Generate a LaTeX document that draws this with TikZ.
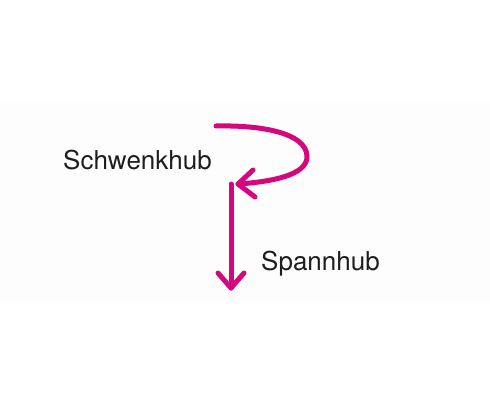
\documentclass[tikz,border=0pt]{standalone}
\usepackage{fontspec}
\setmainfont{TeX Gyre Heros}
\definecolor{mag}{HTML}{D5077C}
\definecolor{band}{HTML}{FDFDFD}
\definecolor{ink}{HTML}{1E1E1E}
\begin{document}
\begin{tikzpicture}[x=1pt,y=-1pt,
  arr/.style={draw=mag,line width=5pt,line cap=round,line join=round},
  lbl/.style={font=\fontsize{26}{30}\selectfont,text=ink,inner sep=0pt,anchor=base west}]
\useasboundingbox (0,0) rectangle (490,410);
\fill[white] (0,0) rectangle (490,410);
\fill[band] (0,102) rectangle (490,303);
% curved arrow
\coordinate (c0) at (216,126);
\coordinate (c1) at (307,156);
\coordinate (ct) at (238,184);
\draw[arr] (c0) .. controls (262,125) and (306,133) .. (c1)
  .. controls (308,176) and (268,182) .. (ct);
\draw[arr] (253,170) -- (ct) -- (255,197);
% straight arrow
\coordinate (s0) at (231,184);
\coordinate (s1) at (231,288);
\draw[arr] (s0) -- (s1);
\draw[arr] (218,273) -- (s1) -- (244,273);
% labels
\node[lbl] (schw) at (63,169) {Schwenkhub};
\node[lbl] (spann) at (261,270) {Spannhub};
\end{tikzpicture}
\end{document}
